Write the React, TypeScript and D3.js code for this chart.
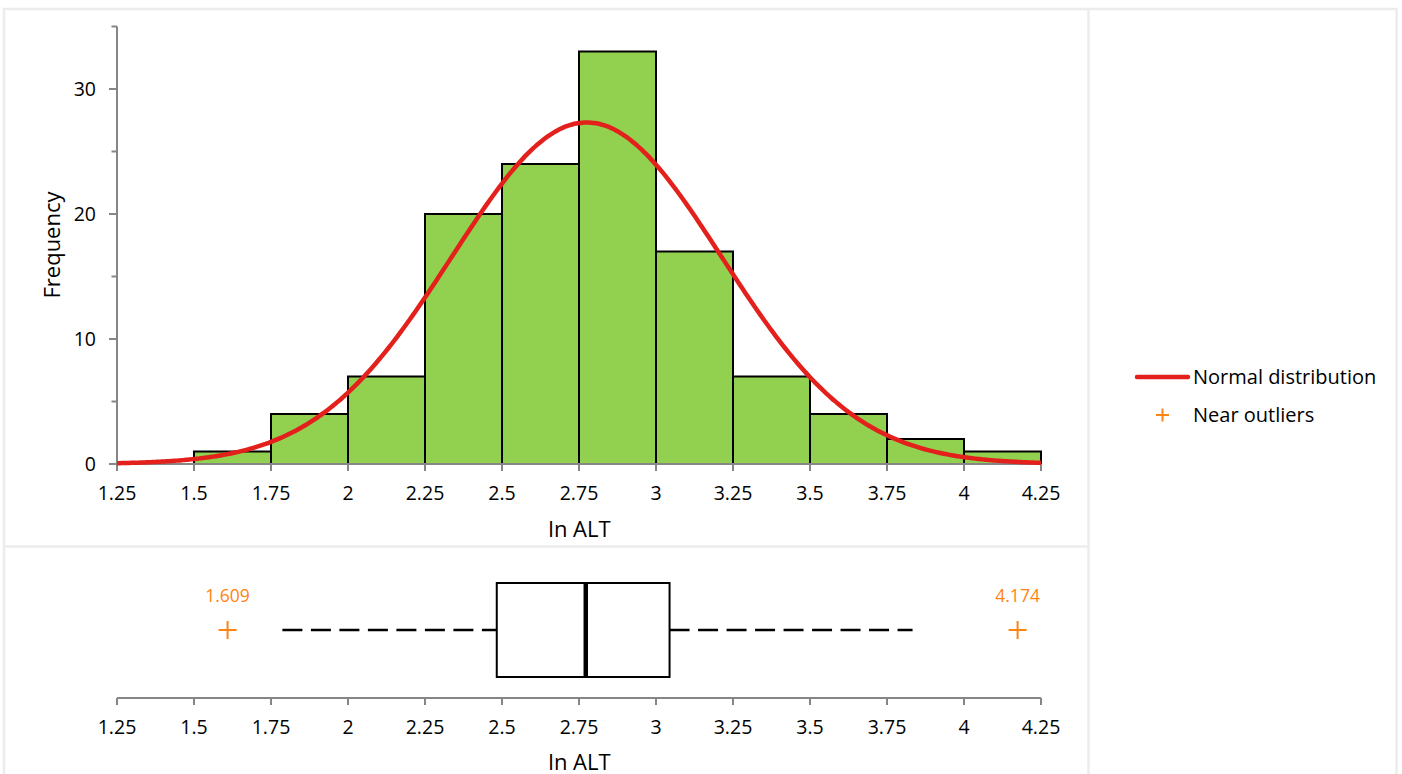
import React from "react";
import * as d3 from "d3";

// ---- data ----
const binStarts = [1.5, 1.75, 2.0, 2.25, 2.5, 2.75, 3.0, 3.25, 3.5, 3.75, 4.0];
const binCounts = [1, 4, 7, 20, 24, 33, 17, 7, 4, 2, 1];
const binWidth = 0.25;
const xTicks = [1.25, 1.5, 1.75, 2, 2.25, 2.5, 2.75, 3, 3.25, 3.5, 3.75, 4, 4.25];
const yMajorTicks = [0, 10, 20, 30];
const yMinorTicks = [5, 15, 25, 35];
const normalMean = 2.775;
const normalSd = 0.438;
const sampleSize = 120;
const boxStats = { whiskerLow: 1.787, q1: 2.483, median: 2.772, q3: 3.044, whiskerHigh: 3.833 };
const outliers = [1.609, 4.174];
const outlierLabels = ["1.609", "4.174"];

const FONT = "'Open Sans', sans-serif";
const AXIS = "#868686";
const FRAME = "#ececec";
const GREEN = "#92d050";
const RED = "#e3201b";
const ORANGE = "#ff8311";
const TICK_FS = 19.5;
const TITLE_FS = 22;
const LEGEND_FS = 20;

export default function App() {
  const x = d3.scaleLinear().domain([1.25, 4.25]).range([117, 1041]);
  const y = d3.scaleLinear().domain([0, 35]).range([464, 26.5]);

  const pdf = (v: number) =>
    (sampleSize * binWidth) / (normalSd * Math.sqrt(2 * Math.PI)) *
    Math.exp(-0.5 * ((v - normalMean) / normalSd) ** 2);
  const curvePts = d3.range(0, 301).map((i) => 1.25 + (i * 3) / 300);
  const line = d3.line<number>().x((v) => x(v)).y((v) => y(pdf(v))).curve(d3.curveBasis);

  const boxY = 630;
  const boxTop = 583;
  const boxBottom = 677;
  const bAxisY = 698;

  const plus = (cx: number, cy: number, s: number, key?: string) => (
    <g key={key} stroke={ORANGE} strokeWidth={2}>
      <line x1={cx - s} x2={cx + s} y1={cy} y2={cy} />
      <line x1={cx} x2={cx} y1={cy - s} y2={cy + s} />
    </g>
  );

  return (
    <svg
      width={1402}
      height={774}
      style={{ position: "fixed", left: 0, top: 0, background: "#fff" }}
      fontFamily={FONT}
    >
      {/* frame */}
      <rect x={4} y={9} width={1392.5} height={780} fill="none" stroke={FRAME} strokeWidth={2.5} />
      <line x1={1088.5} x2={1088.5} y1={9} y2={774} stroke={FRAME} strokeWidth={2.5} />
      <line x1={4} x2={1088.5} y1={546.5} y2={546.5} stroke={FRAME} strokeWidth={2.5} />

      {/* histogram bars */}
      {binStarts.map((b, i) => (
        <rect
          key={b}
          x={x(b)}
          y={y(binCounts[i])}
          width={x(b + binWidth) - x(b)}
          height={y(0) - y(binCounts[i])}
          fill={GREEN}
          stroke="#000"
          strokeWidth={2}
        />
      ))}

      {/* y axis */}
      <line x1={117} x2={117} y1={y(35)} y2={y(0)} stroke={AXIS} strokeWidth={2} />
      {yMajorTicks.map((t) => (
        <g key={t}>
          <line x1={109} x2={117} y1={y(t)} y2={y(t)} stroke={AXIS} strokeWidth={2} />
          <text x={96} y={y(t)} dy="0.35em" textAnchor="end" fontSize={TICK_FS} fill="#000">
            {t}
          </text>
        </g>
      ))}
      {yMinorTicks.map((t) => (
        <line key={t} x1={111.5} x2={117} y1={y(t)} y2={y(t)} stroke={AXIS} strokeWidth={2} />
      ))}
      <text
        transform="translate(52,245) rotate(-90)"
        textAnchor="middle"
        dy="0.35em"
        fontSize={TITLE_FS}
        fill="#000"
      >
        Frequency
      </text>

      {/* top x axis */}
      <line x1={x(1.25)} x2={x(4.25)} y1={y(0)} y2={y(0)} stroke={AXIS} strokeWidth={2} />
      {xTicks.map((t) => (
        <g key={t}>
          <line x1={x(t)} x2={x(t)} y1={y(0)} y2={y(0) + 7} stroke={AXIS} strokeWidth={2} />
          <text x={x(t)} y={493} dy="0.35em" textAnchor="middle" fontSize={TICK_FS} fill="#000">
            {t}
          </text>
        </g>
      ))}
      <text x={579.5} y={529} dy="0.35em" textAnchor="middle" fontSize={TITLE_FS} fill="#000">
        ln ALT
      </text>

      {/* normal curve */}
      <path d={line(curvePts) || ""} fill="none" stroke={RED} strokeWidth={4.5} />

      {/* box plot */}
      <line
        x1={x(boxStats.whiskerLow)}
        x2={x(boxStats.q1)}
        y1={boxY}
        y2={boxY}
        stroke="#000"
        strokeWidth={2.5}
        strokeDasharray="20 8.5"
      />
      <line
        x1={x(boxStats.q3)}
        x2={x(boxStats.whiskerHigh)}
        y1={boxY}
        y2={boxY}
        stroke="#000"
        strokeWidth={2.5}
        strokeDasharray="20 8.5"
      />
      <rect
        x={x(boxStats.q1)}
        y={boxTop}
        width={x(boxStats.q3) - x(boxStats.q1)}
        height={boxBottom - boxTop}
        fill="#fff"
        stroke="#000"
        strokeWidth={2}
      />
      <line
        x1={x(boxStats.median)}
        x2={x(boxStats.median)}
        y1={boxTop}
        y2={boxBottom}
        stroke="#000"
        strokeWidth={4.5}
      />
      {outliers.map((o, i) => (
        <g key={o}>
          {plus(x(o), boxY, 9)}
          <text x={x(o)} y={596} dy="0.35em" textAnchor="middle" fontSize={17.5} fill={ORANGE}>
            {outlierLabels[i]}
          </text>
        </g>
      ))}

      {/* bottom x axis */}
      <line x1={x(1.25)} x2={x(4.25)} y1={bAxisY} y2={bAxisY} stroke={AXIS} strokeWidth={2} />
      {xTicks.map((t) => (
        <g key={t}>
          <line x1={x(t)} x2={x(t)} y1={bAxisY} y2={bAxisY + 7} stroke={AXIS} strokeWidth={2} />
          <text x={x(t)} y={727} dy="0.35em" textAnchor="middle" fontSize={TICK_FS} fill="#000">
            {t}
          </text>
        </g>
      ))}
      <text x={579.5} y={762} dy="0.35em" textAnchor="middle" fontSize={TITLE_FS} fill="#000">
        ln ALT
      </text>

      {/* legend */}
      <line x1={1137} x2={1188} y1={377} y2={377} stroke={RED} strokeWidth={4.5} strokeLinecap="round" />
      <text x={1193} y={377} dy="0.35em" fontSize={LEGEND_FS} fill="#000">
        Normal distribution
      </text>
      {plus(1162.5, 415, 6.5)}
      <text x={1193} y={415} dy="0.35em" fontSize={LEGEND_FS} fill="#000">
        Near outliers
      </text>
    </svg>
  );
}
